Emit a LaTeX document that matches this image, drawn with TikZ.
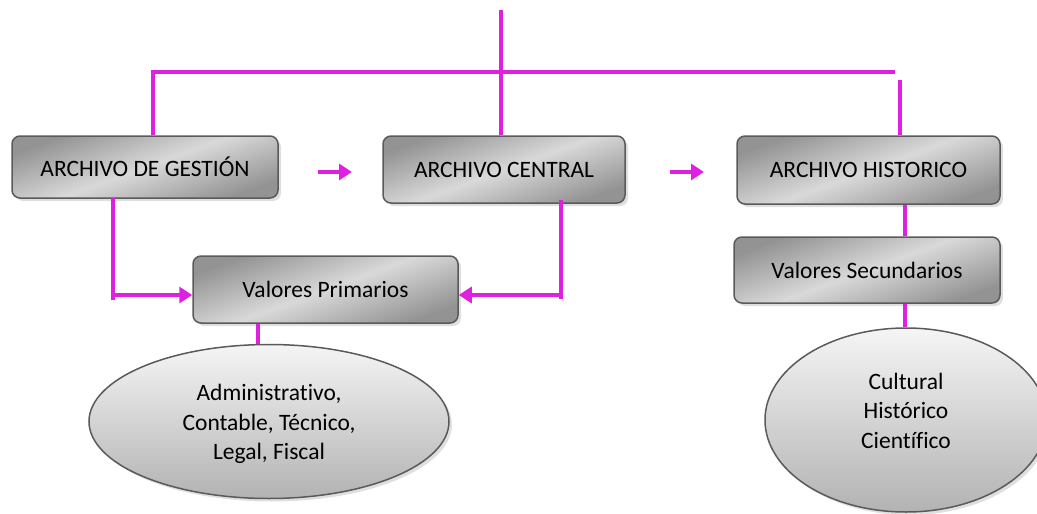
\documentclass[tikz,border=0pt]{standalone}
\usepackage{fontspec}
\setmainfont{Carlito}[Ligatures=NoCommon]
\usetikzlibrary{shapes.geometric,shadows,arrows.meta}
\definecolor{mag}{HTML}{E020E0}
\definecolor{edge}{HTML}{5A5A5A}
\tikzset{
  box/.style={draw=edge, line width=1.5pt, rounded corners=8pt,
    left color=gray!85, right color=gray!85, middle color=gray!30, shading angle=20,
    drop shadow={shadow xshift=3pt, shadow yshift=-3pt, opacity=0.25, fill=gray},
    font=\fontsize{23.5}{28}\selectfont, inner sep=0pt},
  oval/.style={ellipse, draw=edge, line width=1.5pt,
    top color=gray!8, bottom color=gray!60,
    drop shadow={shadow xshift=3pt, shadow yshift=-3pt, opacity=0.25, fill=gray},
    font=\fontsize{23.5}{30}\selectfont, align=center, inner sep=0pt},
  link/.style={draw=mag, line width=4pt},
  arr/.style={draw=mag, line width=4pt, -{Triangle[length=13pt,width=16pt]}},
}
\begin{document}
\begin{tikzpicture}[x=1pt,y=-1pt]
\useasboundingbox (0,0) rectangle (1037,514);
\node[box, minimum width=266pt, minimum height=62pt] (ges) at (145,167) {ARCHIVO DE GESTIÓN};
\node[box, minimum width=242pt, minimum height=67pt] (cen) at (504,169.5) {ARCHIVO CENTRAL};
\node[box, minimum width=263pt, minimum height=68pt] (his) at (868.5,170) {ARCHIVO HISTORICO};
\node[box, minimum width=265pt, minimum height=67pt] (vp) at (325.5,289.5) {Valores Primarios};
\node[box, minimum width=266pt, minimum height=66pt] (vs) at (867,270) {Valores Secundarios};
\node[oval, minimum width=360pt, minimum height=154pt] (e1) at (269,421.5) {\raisebox{-9pt}[0pt][0pt]{\begin{tabular}{@{}c@{}}Administrativo,\\[-0.6pt]Contable, Técnico,\\[-0.6pt]Legal, Fiscal\end{tabular}}};
\node[oval, minimum width=282pt, minimum height=184pt] (e2) at (906,420) {\raisebox{1pt}[0pt][0pt]{\begin{tabular}{@{}c@{}}Cultural\\[-0.6pt]Histórico\\[-0.6pt]Científico\end{tabular}}};
% top connectors
\coordinate (top) at (501,10);
\draw[link] (top) -- (cen.north -| top);
\draw[link] ([xshift=8pt]ges.north) |- (153,72) -- (895,72);
\draw[link] (900,80) -- (his.north -| 900,0);
% small arrows
\coordinate (a1s) at (318,172); \coordinate (a1e) at (352,172);
\coordinate (a2s) at (670,172); \coordinate (a2e) at (704,172);
\draw[arr] (a1s) -- (a1e);
\draw[arr] (a2s) -- (a2e);
% to valores primarios
\draw[link] (113,198) -- (113,300);
\draw[arr] (111,295) -- (vp.west |- 0,295);
\draw[link] (561,200) -- (561,299);
\draw[arr] (563,295) -- (vp.east |- 0,295);
\draw[link] (vp.south -| 258,0) -- (e1.north -| 258,0);
\draw[link] (his.south -| 905,0) -- (vs.north -| 905,0);
\draw[link] (vs.south -| 905,0) -- (e2.north -| 905,0);
\end{tikzpicture}
\end{document}
